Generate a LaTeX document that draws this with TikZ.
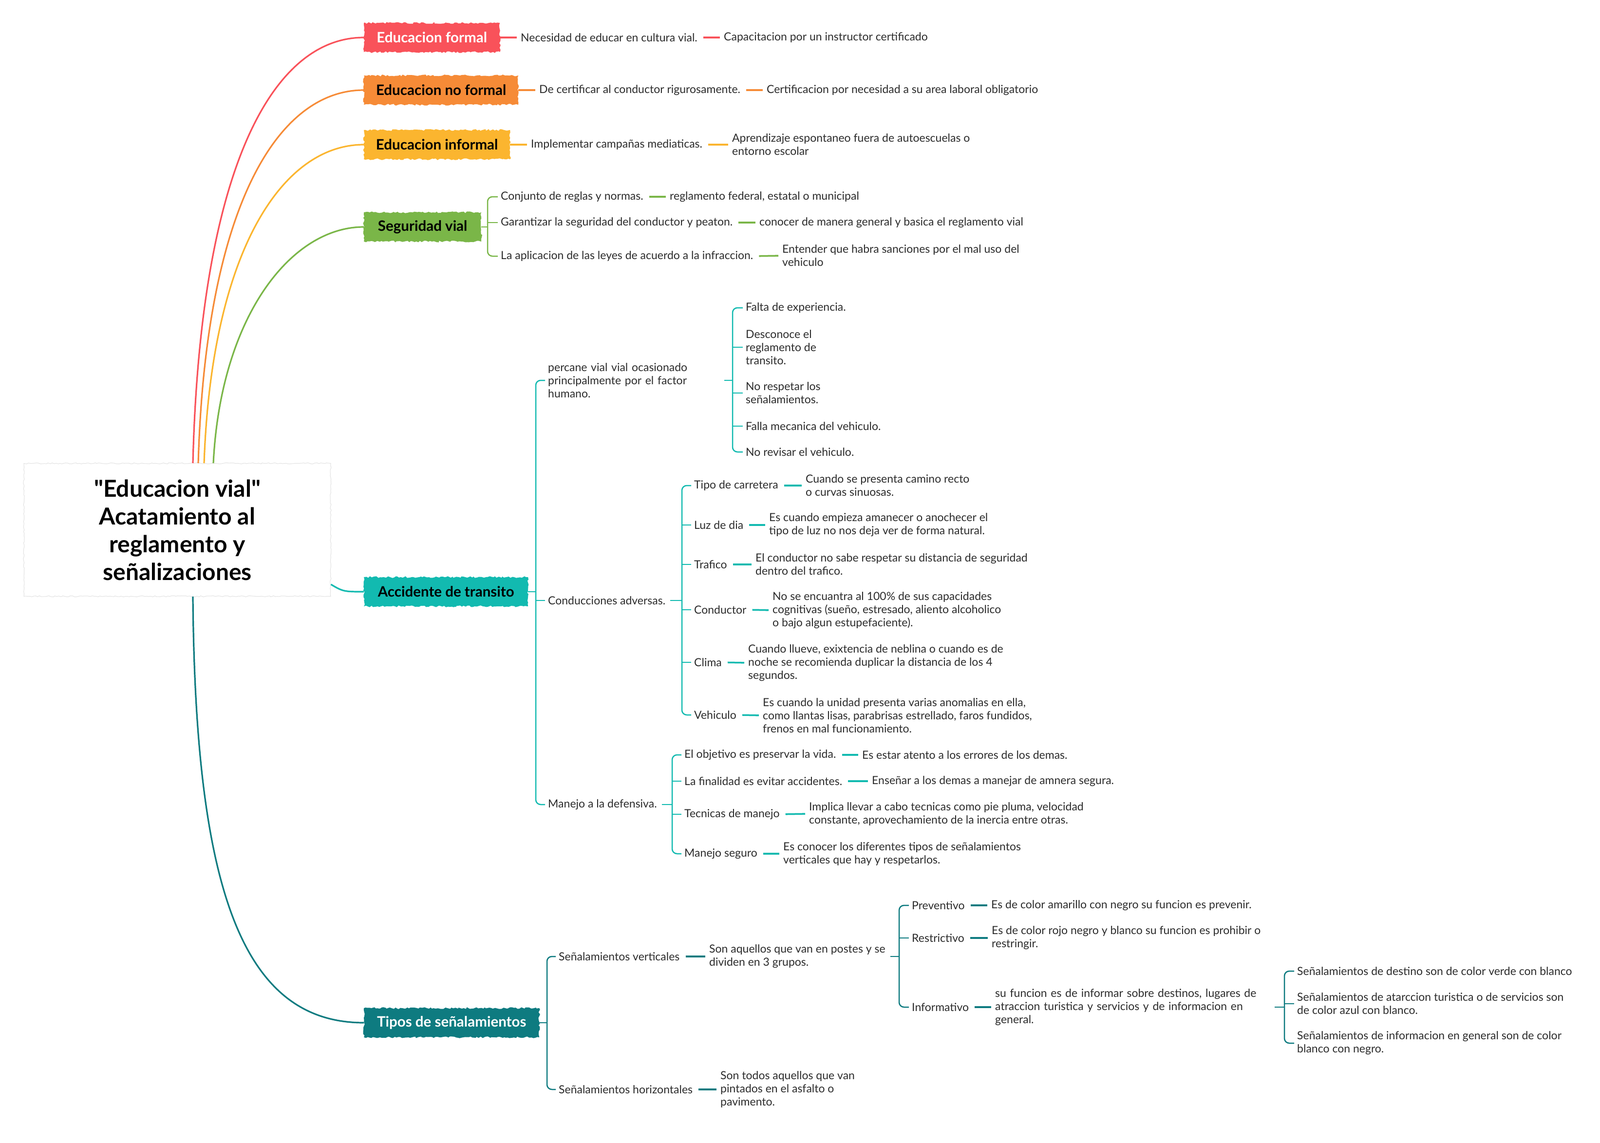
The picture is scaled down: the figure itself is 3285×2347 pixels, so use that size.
\documentclass[tikz,border=0pt]{standalone}
\usepackage{fontspec}
\setmainfont{Lato}[Ligatures=TeXOff]
\usetikzlibrary{decorations.pathmorphing,calc}
\definecolor{cred}{HTML}{F9525A}
\definecolor{corange}{HTML}{F68B37}
\definecolor{cyellow}{HTML}{FBB52F}
\definecolor{cgreen}{HTML}{7AB648}
\definecolor{cteal}{HTML}{12BAB0}
\definecolor{cdteal}{HTML}{0E7B80}
\definecolor{ctext}{HTML}{2B2B2B}
\tikzset{
  topic/.style={font=\fontsize{29.5}{34}\selectfont\bfseries, minimum height=60pt, inner xsep=0pt, anchor=west,
    decorate, decoration={random steps, segment length=4pt, amplitude=1.8pt}},
  central/.style={font=\fontsize{48}{57}\selectfont\bfseries, align=center, minimum width=630pt, minimum height=273pt,
    fill=white, draw=black!12, line width=1pt, decorate, decoration={random steps, segment length=4pt, amplitude=1.2pt}},
  txt/.style={font=\fontsize{23}{27}\selectfont, text=ctext, anchor=west, inner sep=0pt, align=left},
  lk0/.style={line width=3.5pt, shorten >=8pt},
  lk/.style={line width=3.5pt, shorten <=12pt, shorten >=8pt},
  stub/.style={line width=2.5pt, shorten <=10pt},
  br/.style={line width=2.5pt, rounded corners=10pt, shorten <=6pt, shorten >=6pt},
  brs/.style={line width=2.5pt, shorten >=6pt},
  curve/.style={line width=3.2pt},
}
\begin{document}
\begin{tikzpicture}[x=1pt,y=-1pt]
\useasboundingbox (0,0) rectangle (3285,2347);

% central
\node[central] (root) at (364,1088) {"Educacion vial"\\Acatamiento al\\reglamento y\\señalizaciones};

% topics
\node[topic, fill=cred, text=white, minimum width=279pt] (formal) at (747,77) {Educacion formal};
\node[topic, fill=corange, text=black, minimum width=317pt] (noformal) at (747,185) {Educacion no formal};
\node[topic, fill=cyellow, text=black, minimum width=300pt] (informal) at (747,297) {Educacion informal};
\node[topic, fill=cgreen, text=black, minimum width=241pt] (seg) at (747,466) {Seguridad vial};
\node[topic, fill=cteal, text=black, minimum width=337pt] (acc) at (747,1215) {Accidente de transito};
\node[topic, fill=cdteal, text=white, minimum width=360pt] (tipos) at (747,2100) {Tipos de señalamientos};

% curves from root
\draw[curve, cred] ([xshift=32pt]root.north) .. controls +(15,-600) and +(-190,0) .. (formal.west);
\draw[curve, corange] ([xshift=43pt]root.north) .. controls +(15,-520) and +(-180,0) .. (noformal.west);
\draw[curve, cyellow] ([xshift=55pt]root.north) .. controls +(15,-430) and +(-170,0) .. (informal.west);
\draw[curve, cgreen] ([xshift=74pt]root.north) .. controls +(15,-300) and +(-150,0) .. (seg.west);
\draw[curve, cteal] ([yshift=-112pt]root.east) .. controls +(25,15) and +(-40,0) .. (acc.west);
\draw[curve, cdteal] ([xshift=32pt]root.south) .. controls +(5,600) and +(-250,0) .. (tipos.west);

% Educacion formal
\node[txt] (f1) at (1069,77) {Necesidad de educar en cultura vial.};
\node[txt] (f2) at (1486,77) {Capacitacion por un instructor certificado};
\draw[lk0, cred] (formal.east) -- (f1.west);
\draw[lk, cred] (f1.east) -- (f2.west);

% Educacion no formal
\node[txt] (n1) at (1107,185) {De certificar al conductor rigurosamente.};
\node[txt] (n2) at (1574,185) {Certificacion por necesidad a su area laboral obligatorio};
\draw[lk0, corange] (noformal.east) -- (n1.west);
\draw[lk, corange] (n1.east) -- (n2.west);

% Educacion informal
\node[txt] (i1) at (1090,297) {Implementar campañas mediaticas.};
\node[txt] (i2) at (1503,297) {Aprendizaje espontaneo fuera de autoescuelas o\\entorno escolar};
\draw[lk0, cyellow] (informal.east) -- (i1.west);
\draw[lk, cyellow] (i1.east) -- (i2.west);

% Seguridad vial
\coordinate (bS) at (1001,0);
\node[txt] (s1) at (1028,404) {Conjunto de reglas y normas.};
\node[txt] (s1b) at (1375,404) {reglamento federal, estatal o municipal};
\node[txt] (s2) at (1028,457) {Garantizar la seguridad del conductor y peaton.};
\node[txt] (s2b) at (1559,457) {conocer de manera general y basica el reglamento vial};
\node[txt] (s3) at (1028,526) {La aplicacion de las leyes de acuerdo a la infraccion.};
\node[txt] (s3b) at (1606,525) {Entender que habra sanciones por el mal uso del\\vehiculo};
\draw[stub, cgreen, shorten <=0pt] (seg.east) -- (seg.east -| bS);
\draw[br, cgreen] (s1.west) -- (s1.west -| bS) -- (s3.west -| bS) -- (s3.west);
\draw[brs, cgreen] (s2.west -| bS) -- (s2.west);
\draw[lk, cgreen] (s1.east) -- (s1b.west);
\draw[lk, cgreen] (s2.east) -- (s2b.west);
\draw[lk, cgreen] (s3.east) -- (s3b.west);

% Accidente de transito
\coordinate (bA) at (1100,0);
\node[txt, text width=352pt] (a1) at (1125,781) {percane vial vial ocasionado\\principalmente por el factor\\humano.};
\node[txt] (a2) at (1125,1233) {Conducciones adversas.};
\node[txt] (a3) at (1125,1652) {Manejo a la defensiva.};
\draw[stub, cteal, shorten <=0pt] (acc.east) -- (acc.east -| bA);
\draw[br, cteal] (a1.west) -- (a1.west -| bA) -- (a3.west -| bA) -- (a3.west);
\draw[brs, cteal] (a2.west -| bA) -- (a2.west);

% percane children
\coordinate (bP) at (1504,0);
\node[txt] (p1) at (1531,632) {Falta de experiencia.};
\node[txt] (p2) at (1531,713) {Desconoce el\\reglamento de\\transito.};
\node[txt] (p3) at (1531,807) {No respetar los\\señalamientos.};
\node[txt] (p4) at (1531,875) {Falla mecanica del vehiculo.};
\node[txt] (p5) at (1531,928) {No revisar el vehiculo.};
\draw[stub, cteal] (a1.east) -- (a1.east -| bP);
\draw[br, cteal] (p1.west) -- (p1.west -| bP) -- (p5.west -| bP) -- (p5.west);
\draw[brs, cteal] (p2.west -| bP) -- (p2.west);
\draw[brs, cteal] (p3.west -| bP) -- (p3.west);
\draw[brs, cteal] (p4.west -| bP) -- (p4.west);

% Conducciones adversas children
\coordinate (bC) at (1400,0);
\node[txt] (c1) at (1425,997) {Tipo de carretera};
\node[txt] (c1b) at (1654,997) {Cuando se presenta camino recto\\o curvas sinuosas.};
\node[txt] (c2) at (1425,1078) {Luz de dia};
\node[txt] (c2b) at (1579,1078) {Es cuando empieza amanecer o anochecer el\\tipo de luz no nos deja ver de forma natural.};
\node[txt] (c3) at (1425,1159) {Trafico};
\node[txt] (c3b) at (1551,1159) {El conductor no sabe respetar su distancia de seguridad\\dentro del trafico.};
\node[txt] (c4) at (1425,1252) {Conductor};
\node[txt] (c4b) at (1586,1253) {No se encuantra al 100\% de sus capacidades\\cognitivas (sueño, estresado, aliento alcoholico\\o bajo algun estupefaciente).};
\node[txt] (c5) at (1425,1360) {Clima};
\node[txt] (c5b) at (1536,1361) {Cuando llueve, exixtencia de neblina o cuando es de\\noche se recomienda duplicar la distancia de los 4\\segundos.};
\node[txt] (c6) at (1425,1468) {Vehiculo};
\node[txt] (c6b) at (1566,1469) {Es cuando la unidad presenta varias anomalias en ella,\\como llantas lisas, parabrisas estrellado, faros fundidos,\\frenos en mal funcionamiento.};
\draw[stub, cteal] (a2.east) -- (a2.east -| bC);
\draw[br, cteal] (c1.west) -- (c1.west -| bC) -- (c6.west -| bC) -- (c6.west);
\foreach \n in {c2,c3,c4,c5} \draw[brs, cteal] (\n.west -| bC) -- (\n.west);
\foreach \n in {c1,c2,c3,c4,c5,c6} \draw[lk, cteal] (\n.east) -- (\n b.west);

% Manejo a la defensiva children
\coordinate (bM) at (1380,0);
\node[txt] (m1) at (1405,1550) {El objetivo es preservar la vida.};
\node[txt] (m1b) at (1770,1550) {Es estar atento a los errores de los demas.};
\node[txt] (m2) at (1405,1604) {La finalidad es evitar accidentes.};
\node[txt] (m2b) at (1790,1604) {Enseñar a los demas a manejar de amnera segura.};
\node[txt] (m3) at (1405,1672) {Tecnicas de manejo};
\node[txt] (m3b) at (1661,1671) {Implica llevar a cabo tecnicas como pie pluma, velocidad\\constante, aprovechamiento de la inercia entre otras.};
\node[txt] (m4) at (1405,1753) {Manejo seguro};
\node[txt] (m4b) at (1608,1753) {Es conocer los diferentes tipos de señalamientos\\verticales que hay y respetarlos.};
\draw[stub, cteal] (a3.east) -- (a3.east -| bM);
\draw[br, cteal] (m1.west) -- (m1.west -| bM) -- (m4.west -| bM) -- (m4.west);
\foreach \n in {m2,m3} \draw[brs, cteal] (\n.west -| bM) -- (\n.west);
\foreach \n in {m1,m2,m3,m4} \draw[lk, cteal] (\n.east) -- (\n b.west);

% Tipos de senalamientos
\coordinate (bT) at (1123,0);
\node[txt] (t1) at (1147,1964) {Señalamientos verticales};
\node[txt] (t1b) at (1456,1964) {Son aquellos que van en postes y se\\dividen en 3 grupos.};
\node[txt] (t2) at (1147,2237) {Señalamientos horizontales};
\node[txt] (t2b) at (1479,2237) {Son todos aquellos que van\\pintados en el asfalto o\\pavimento.};
\draw[stub, cdteal, shorten <=0pt] (tipos.east) -- (tipos.east -| bT);
\draw[br, cdteal] (t1.west) -- (t1.west -| bT) -- (t2.west -| bT) -- (t2.west);
\draw[lk, cdteal] (t1.east) -- (t1b.west);
\draw[lk, cdteal] (t2.east) -- (t2b.west);

% verticales children
\coordinate (bV) at (1846,0);
\node[txt] (v1) at (1872,1859) {Preventivo};
\node[txt] (v1b) at (2035,1859) {Es de color amarillo con negro su funcion es prevenir.};
\node[txt] (v2) at (1872,1926) {Restrictivo};
\node[txt] (v2b) at (2036,1926) {Es de color rojo negro y blanco su funcion es prohibir o\\restringir.};
\node[txt] (v3) at (1872,2068) {Informativo};
\node[txt, text width=564pt] (v3b) at (2043,2068) {su funcion es de informar sobre destinos, lugares de\\atraccion turistica y servicios y de informacion en\\general.};
\draw[stub, cdteal] (t1b.east) -- (t1b.east -| bV);
\draw[br, cdteal] (v1.west) -- (v1.west -| bV) -- (v3.west -| bV) -- (v3.west);
\draw[brs, cdteal] (v2.west -| bV) -- (v2.west);
\foreach \n in {v1,v2,v3} \draw[lk, cdteal] (\n.east) -- (\n b.west);

% informativo children
\coordinate (bI) at (2637,0);
\node[txt] (w1) at (2663,1994) {Señalamientos de destino son de color verde con blanco};
\node[txt] (w2) at (2663,2061) {Señalamientos de atarccion turistica o de servicios son\\de color azul con blanco.};
\node[txt] (w3) at (2663,2142) {Señalamientos de informacion en general son de color\\blanco con negro.};
\draw[stub, cdteal] (v3b.east) -- (v3b.east -| bI);
\draw[br, cdteal] (w1.west) -- (w1.west -| bI) -- (w3.west -| bI) -- (w3.west);
\draw[brs, cdteal] (w2.west -| bI) -- (w2.west);
\end{tikzpicture}
\end{document}
